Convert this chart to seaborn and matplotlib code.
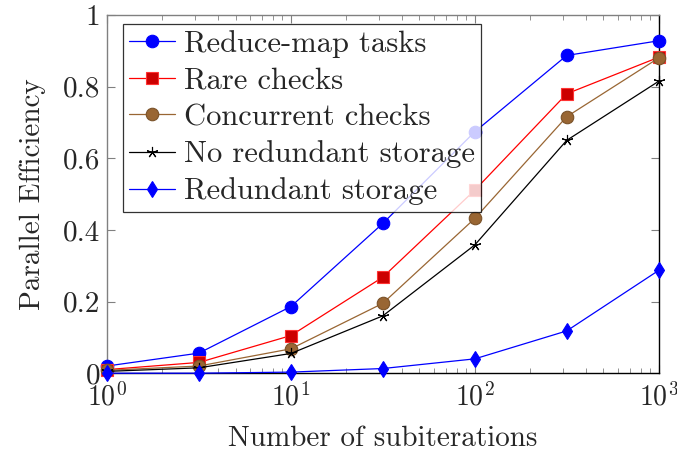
import numpy as np
import pandas as pd
import matplotlib
matplotlib.use("Agg")
import matplotlib.pyplot as plt
import matplotlib.ticker as mticker
import seaborn as sns

# data
subiters = [1, 3.16, 10, 31.6, 100, 316, 1000]
reduce_map = [0.020, 0.056, 0.186, 0.418, 0.674, 0.887, 0.928]
rare_checks = [0.010, 0.030, 0.105, 0.268, 0.511, 0.780, 0.882]
concurrent = [0.008, 0.020, 0.068, 0.195, 0.432, 0.716, 0.880]
no_redundant = [0.005, 0.015, 0.055, 0.160, 0.358, 0.650, 0.815]
redundant = [0.000, 0.000, 0.003, 0.013, 0.040, 0.118, 0.287]

labels = ["Reduce-map tasks", "Rare checks", "Concurrent checks",
          "No redundant storage", "Redundant storage"]
series = [reduce_map, rare_checks, concurrent, no_redundant, redundant]

sns.set_style("ticks")
plt.rcParams.update({
    "font.family": "cmr10",
    "mathtext.fontset": "cm",
    "axes.formatter.use_mathtext": True,
    "font.size": 21,
})

styles = [
    dict(color="#0000ff", marker="o", markersize=9, mfc="#0000ff", mec="#0000ff"),
    dict(color="#ff0000", marker="s", markersize=8.5, mfc="#cc0000", mec="#ff3333"),
    dict(color="#996633", marker="o", markersize=9, mfc="#996633", mec="#7a5229"),
    dict(color="black", marker=(5, 2, 0), markersize=8, mfc="black", mec="black"),
    dict(color="#0000ff", marker="d", markersize=8, mfc="#0000ff", mec="#0000ff"),
]

fig = plt.figure(figsize=(6.77, 4.54), dpi=100)
ax = fig.add_axes([0.158, 0.178, 0.815, 0.789])

for lab, vals, st in zip(labels, series, styles):
    sns.lineplot(x=subiters, y=vals, ax=ax, label=lab, lw=0.9,
                 color=st["color"], marker=st["marker"], markersize=st["markersize"],
                 markerfacecolor=st["mfc"], markeredgecolor=st["mec"],
                 markeredgewidth=0.8, clip_on=False, zorder=3)

ax.set_xscale("log")
ax.set_xlim(1, 1000)
ax.set_ylim(0, 1)
ax.set_yticks([0, 0.2, 0.4, 0.6, 0.8, 1.0])
ax.set_yticklabels(["0", "0.2", "0.4", "0.6", "0.8", "1"])
ax.xaxis.set_major_locator(mticker.LogLocator(base=10, numticks=10))
ax.xaxis.set_minor_locator(mticker.LogLocator(base=10, subs=np.arange(2, 10), numticks=10))
ax.xaxis.set_minor_formatter(mticker.NullFormatter())

ax.tick_params(which="both", direction="in", top=True, right=True,
               color="#808080", labelsize=21, pad=5)
ax.tick_params(axis="x", labelsize=20, pad=7)
ax.tick_params(which="major", length=6)
ax.tick_params(which="minor", length=3.5)
ax.spines["left"].set_color("#808080")
ax.spines["top"].set_color("#808080")
ax.spines["right"].set_color("black")
ax.spines["bottom"].set_color("black")
for sp in ax.spines.values():
    sp.set_linewidth(1.0)

ax.set_xlabel("Number of subiterations", fontsize=21, labelpad=10)
ax.set_ylabel("Parallel Efficiency", fontsize=21, labelpad=12)

leg = ax.legend(loc="upper left", bbox_to_anchor=(0.029, 0.975), fontsize=22,
                frameon=True, fancybox=False, edgecolor="black",
                handlelength=1.5, labelspacing=0.3, borderpad=0.2,
                handletextpad=0.3, borderaxespad=0)
leg.get_frame().set_linewidth(0.9)

fig.savefig("out.png", dpi=100)
